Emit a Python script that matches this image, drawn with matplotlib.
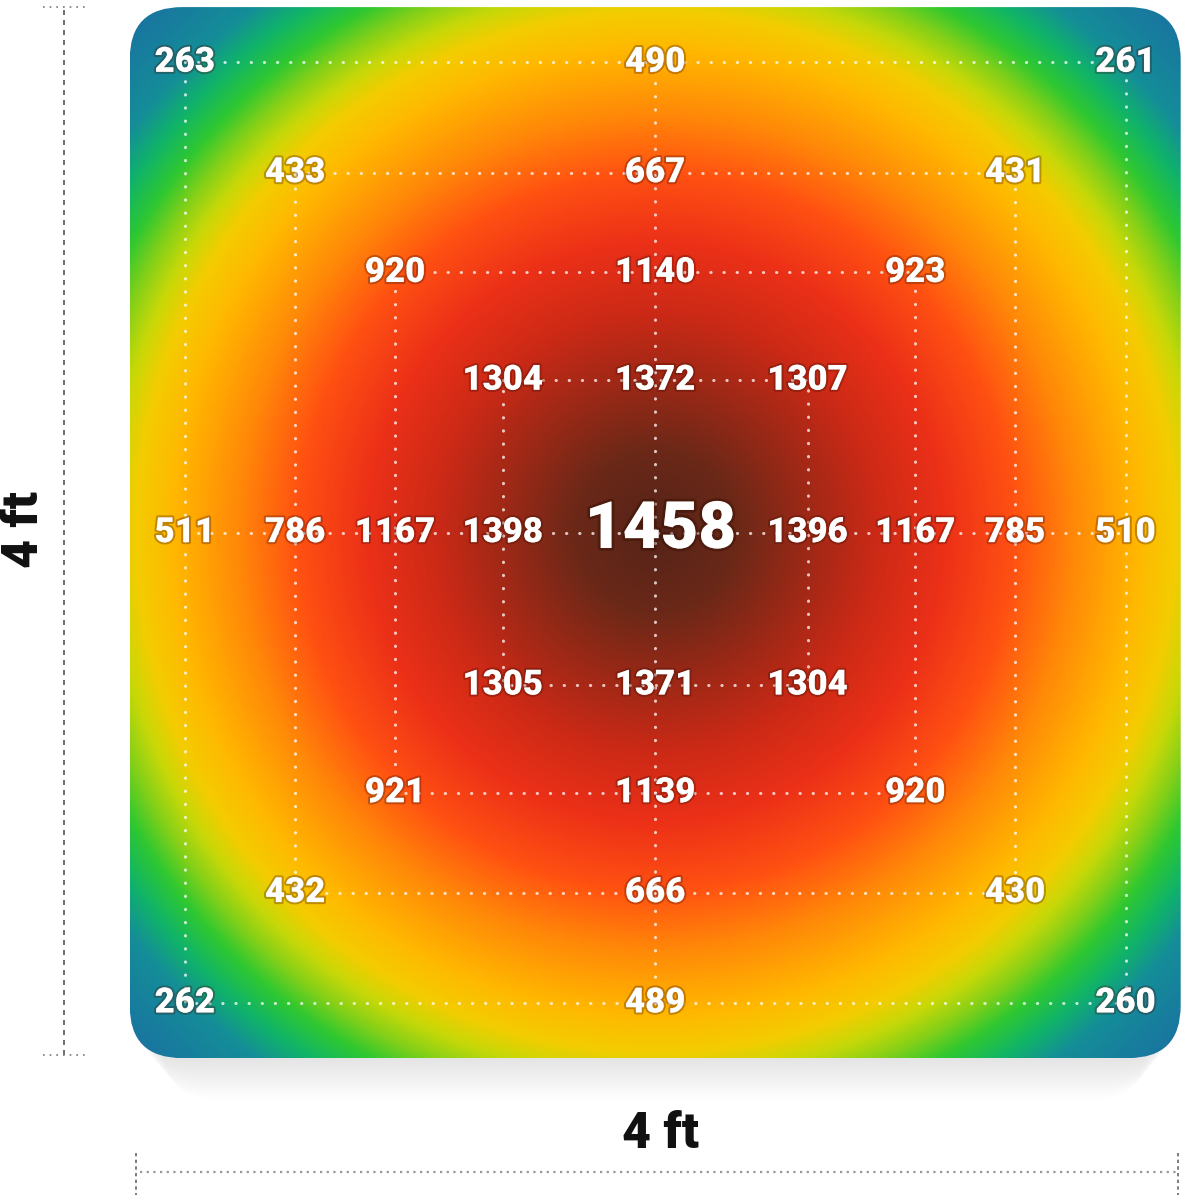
import numpy as np
import matplotlib
matplotlib.use("Agg")
import matplotlib.pyplot as plt
from matplotlib.patches import FancyBboxPatch
from matplotlib.colors import LinearSegmentedColormap
import matplotlib.patheffects as pe

# ---- data (PPFD readings, umol/m2/s) ----
# order per ring: TL, T, TR, R, BR, B, BL, L
ring_outer = [263, 490, 261, 510, 260, 489, 262, 511]
ring_2 = [433, 667, 431, 785, 430, 666, 432, 786]
ring_3 = [920, 1140, 923, 1167, 920, 1139, 921, 1167]
ring_4 = [1304, 1372, 1307, 1396, 1304, 1371, 1305, 1398]
center_value = 1458
dim_label = "4 ft"

rings = [ring_outer, ring_2, ring_3, ring_4]
ring_half = [1.79, 1.37, 0.99, 0.58]   # ft from center (layout)
slots = [(-1, 1), (0, 1), (1, 1), (1, 0), (1, -1), (0, -1), (-1, -1), (-1, 0)]

fig = plt.figure(figsize=(12, 12), dpi=100)
ax = fig.add_axes([0, 0, 1, 1])
ax.set_xlim(-2.485, 2.065)
ax.set_ylim(-2.54, 2.027)
ax.axis("off")

# soft shadow
for i in range(14):
    sh = FancyBboxPatch((-2 + 0.01 * i, -2.0 - 0.012 * i), 4 - 0.02 * i, 4,
                        boxstyle="round,pad=0,rounding_size=0.2",
                        fc=(0.5, 0.5, 0.5), ec="none", alpha=0.01, zorder=0)
    ax.add_patch(sh)

# gradient field
vmax = 1.42
stops = [(0.0, "#552418"), (0.15, "#6a2818"), (0.30, "#a22816"),
         (0.42, "#cc2a16"), (0.55, "#ec3018"), (0.68, "#ff5012"),
         (0.80, "#ff8a08"), (0.92, "#ffb800"), (0.99, "#f4cc00"),
         (1.04, "#c8d808"), (1.09, "#84d018"), (1.14, "#30c830"),
         (1.20, "#10b468"), (1.26, "#148e98"), (1.42, "#1a6ea2")]
cmap = LinearSegmentedColormap.from_list("ppfd", [(s / vmax, c) for s, c in stops])
n = 600
gx, gy = np.meshgrid(np.linspace(-2, 2, n), np.linspace(-2, 2, n))
p = 2.0
r = ((np.abs(gx) / 2) ** p + (np.abs(gy) / 2) ** p) ** (1 / p)
box = FancyBboxPatch((-2, -2), 4, 4, boxstyle="round,pad=0,rounding_size=0.2",
                     fc="none", ec="none", transform=ax.transData)
ax.add_patch(box)
im = ax.imshow(r, extent=(-2, 2, -2, 2), origin="lower", cmap=cmap,
               vmin=0, vmax=vmax, interpolation="bilinear", zorder=1)
im.set_clip_path(box)

# dotted guide lines
dot_kw = dict(color="white", alpha=0.75, lw=2.2, ls=(0, (0.1, 4.2)),
              dash_capstyle="round", zorder=2)
for h in ring_half:
    ax.plot([-h, h, h, -h, -h], [h, h, -h, -h, h], **dot_kw)
H = ring_half[0]
ax.plot([0, 0], [-H, H], **dot_kw)
ax.plot([-H, H], [0, 0], **dot_kw)

# labels
halo = [pe.withStroke(linewidth=3, foreground=(0.25, 0.05, 0.0, 0.3))]
for vals, h in zip(rings, ring_half):
    for v, (sx, sy) in zip(vals, slots):
        ax.text(sx * h, sy * h, str(v), color="white", fontsize=25,
                fontweight="heavy", family="Roboto", ha="center", va="center",
                zorder=4, path_effects=halo)
ax.text(0.02, 0.01, str(center_value), color="white", fontsize=47,
        fontweight="heavy", family="Roboto", ha="center", va="center",
        zorder=4, path_effects=[pe.withStroke(linewidth=4, foreground=(0.2, 0.05, 0.0, 0.4))])

# dimension lines
ax.plot([-2.25, -2.25], [-1.99, 2.0], color="#555555", lw=1.2,
        ls=(0, (3, 3)), zorder=2)
ax.plot([-2.33, -2.17], [2.0, 2.0], color="#777777", lw=1.2, ls=(0, (1, 3)))
ax.plot([-2.33, -2.17], [-1.99, -1.99], color="#777777", lw=1.2, ls=(0, (1, 3)))
ax.plot([-1.96, 1.99], [-2.434, -2.434], color="#999999", lw=1.6,
        ls=(0, (1, 2)), zorder=2)
ax.plot([-1.975, -1.975], [-2.36, -2.52], color="#666666", lw=1.2, ls=(0, (2, 2)))
ax.plot([1.99, 1.99], [-2.36, -2.52], color="#666666", lw=1.2, ls=(0, (2, 2)))

ax.text(0.02, -2.29, dim_label, color="#111111", fontsize=36, fontweight="heavy",
        family="Roboto", ha="center", va="center")
ax.text(-2.40, 0.01, dim_label, color="#111111", fontsize=36, fontweight="heavy",
        family="Roboto", ha="center", va="center", rotation=90)

fig.savefig("out.png", dpi=100, facecolor="white")
